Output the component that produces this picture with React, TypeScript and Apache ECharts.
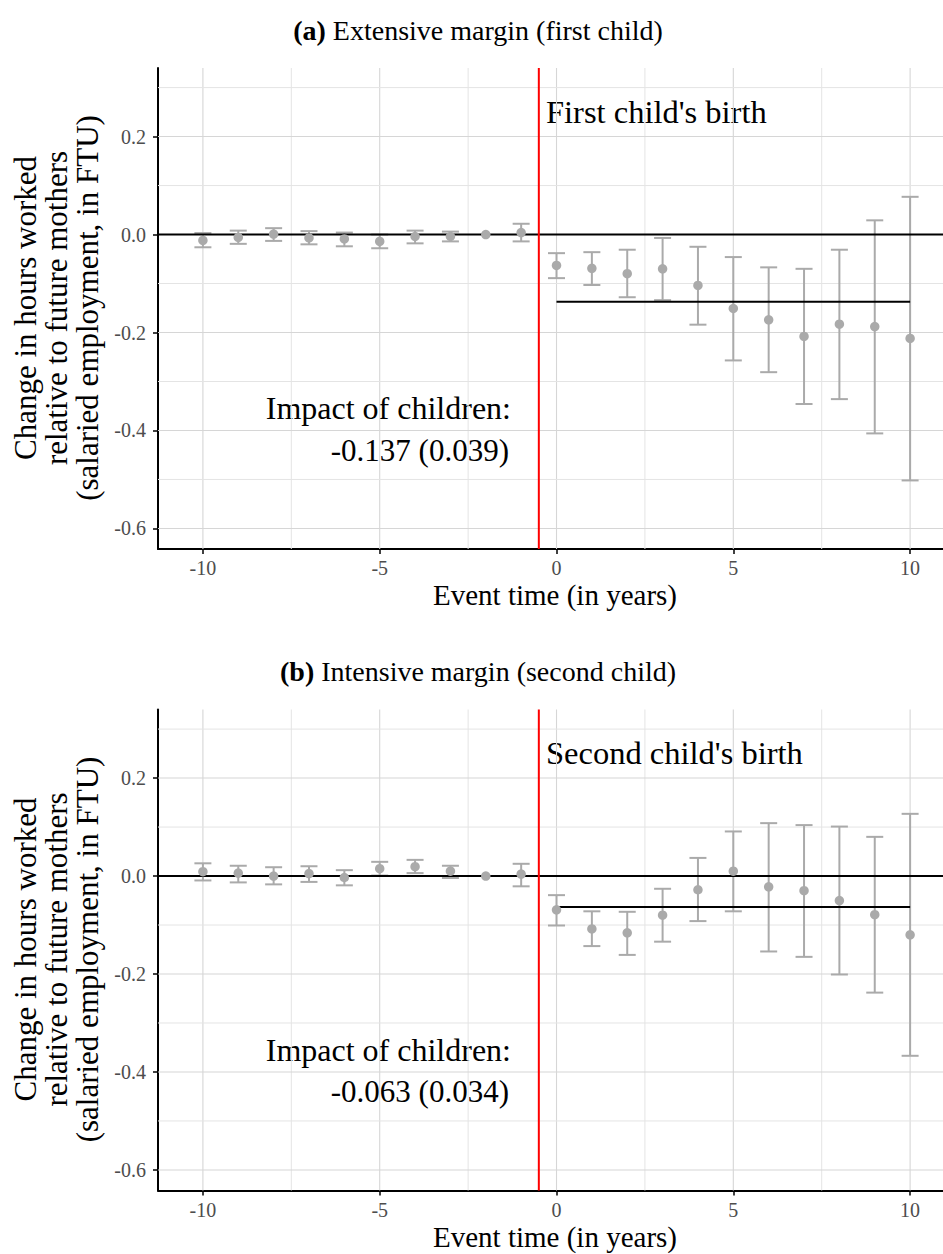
import React, { useEffect, useRef } from "react";
import * as echarts from "echarts";

// ---------- data ----------
const eventTime = [-10, -9, -8, -7, -6, -5, -4, -3, -2, -1, 0, 1, 2, 3, 4, 5, 6, 7, 8, 9, 10];

const estA = [-0.012, -0.006, 0.001, -0.007, -0.009, -0.014, -0.004, -0.004, 0.0, 0.004, -0.063, -0.069, -0.08, -0.07, -0.104, -0.151, -0.174, -0.208, -0.183, -0.188, -0.212];
const hiA = [0.003, 0.008, 0.013, 0.007, 0.004, 0.0, 0.008, 0.006, null, 0.022, -0.038, -0.036, -0.031, -0.007, -0.025, -0.046, -0.067, -0.07, -0.031, 0.029, 0.077];
const loA = [-0.026, -0.019, -0.013, -0.02, -0.024, -0.028, -0.018, -0.014, null, -0.014, -0.089, -0.103, -0.128, -0.134, -0.184, -0.257, -0.281, -0.346, -0.336, -0.406, -0.502];

const estB = [0.009, 0.006, 0.0, 0.005, -0.003, 0.015, 0.019, 0.01, 0.0, 0.004, -0.069, -0.108, -0.116, -0.08, -0.028, 0.01, -0.022, -0.03, -0.05, -0.079, -0.12];
const hiB = [0.026, 0.021, 0.018, 0.02, 0.012, 0.029, 0.033, 0.021, null, 0.025, -0.039, -0.072, -0.073, -0.026, 0.037, 0.091, 0.108, 0.104, 0.101, 0.08, 0.127];
const loB = [-0.009, -0.013, -0.017, -0.012, -0.019, 0.001, 0.006, -0.004, null, -0.021, -0.101, -0.143, -0.161, -0.134, -0.092, -0.072, -0.154, -0.165, -0.201, -0.238, -0.367];

const impactA = -0.137;
const impactB = -0.063;
const impactPeriod = [0, 10];
const eventLineX = -0.5;

const xTicks = [-10, -5, 0, 5, 10];
const xMinor = [-7.5, -2.5, 2.5, 7.5];
const yTicks = [-0.6, -0.4, -0.2, 0, 0.2];
const yMinor = [-0.5, -0.3, -0.1, 0.1, 0.3];

const titles = ["(a)|Extensive margin (first child)", "(b)|Intensive margin (second child)"];
const birthLabels = ["First child's birth", "Second child's birth"];
const impactLabels = ["-0.137 (0.039)", "-0.063 (0.034)"];
const impactHeading = "Impact of children:";
const xTitle = "Event time (in years)";
const yTitle = "Change in hours worked\nrelative to future mothers\n(salaried employment, in FTU)";

// ---------- layout / style ----------
const X_MIN = -11.27;
const X_MAX = 10.93;
const Y_MIN = -0.642;
const Y_MAX = 0.34;
const FONT = "Liberation Serif";
const GREY = "#AAAAAA";
const PANEL_OFFSET = 641.5;

export default function App() {
  const ref = useRef<HTMLDivElement>(null);

  useEffect(() => {
    document.body.style.margin = "0";
    if (!ref.current) return;
    const chart = echarts.init(ref.current, null, { renderer: "svg" });

    const panels = [
      { est: estA, lo: loA, hi: hiA, impact: impactA },
      { est: estB, lo: loB, hi: hiB, impact: impactB },
    ];

    const grids: any[] = [];
    const xAxes: any[] = [];
    const yAxes: any[] = [];
    const series: any[] = [];
    const graphics: any[] = [];

    panels.forEach((p, i) => {
      const off = i * PANEL_OFFSET;
      grids.push({ left: 158, top: 68 + off, width: 785, height: 481, containLabel: false });
      xAxes.push({
        type: "value",
        gridIndex: i,
        min: X_MIN,
        max: X_MAX,
        splitLine: { show: false },
        axisLine: { show: true, onZero: false, lineStyle: { color: "#000", width: 2 } },
        axisTick: { show: true, customValues: xTicks, length: 5, lineStyle: { color: "#000", width: 1.5 } },
        axisLabel: {
          show: true,
          customValues: xTicks,
          margin: 9,
          color: "#4D4D4D",
          fontFamily: FONT,
          fontSize: 20,
          formatter: (v: number) => String(v),
        },
      });
      yAxes.push({
        type: "value",
        gridIndex: i,
        min: Y_MIN,
        max: Y_MAX,
        splitLine: { show: false },
        axisLine: { show: true, onZero: false, lineStyle: { color: "#000", width: 2 } },
        axisTick: { show: true, customValues: yTicks, length: 5, lineStyle: { color: "#000", width: 1.5 } },
        axisLabel: {
          show: true,
          customValues: yTicks,
          margin: 12,
          color: "#4D4D4D",
          fontFamily: FONT,
          fontSize: 20,
          formatter: (v: number) => v.toFixed(1),
        },
      });

      const gridData: number[][] = [
        ...xTicks.map((v) => [0, v, 1]),
        ...xMinor.map((v) => [0, v, 0]),
        ...yTicks.map((v) => [1, v, 1]),
        ...yMinor.map((v) => [1, v, 0]),
      ];
      series.push({
        type: "custom",
        xAxisIndex: i,
        yAxisIndex: i,
        silent: true,
        z: 1,
        data: gridData,
        renderItem: (params: any, api: any) => {
          const orient = api.value(0);
          const v = api.value(1);
          const major = api.value(2) === 1;
          const cs = params.coordSys;
          const style = { stroke: major ? "#D6D6D6" : "#E4E4E4", lineWidth: major ? 1.1 : 1 };
          if (orient === 0) {
            const x = api.coord([v, 0])[0];
            return { type: "line", shape: { x1: x, y1: cs.y, x2: x, y2: cs.y + cs.height }, style };
          }
          const y = api.coord([0, v])[1];
          return { type: "line", shape: { x1: cs.x, y1: y, x2: cs.x + cs.width, y2: y }, style };
        },
      });

      const ebData = eventTime
        .map((t, k) => [t, p.lo[k], p.hi[k]])
        .filter((d) => d[1] !== null && d[2] !== null);
      series.push({
        type: "custom",
        xAxisIndex: i,
        yAxisIndex: i,
        silent: true,
        z: 3,
        data: ebData,
        encode: { x: 0, y: [1, 2] },
        renderItem: (params: any, api: any) => {
          const x = api.value(0);
          const top = api.coord([x, api.value(2)]);
          const bot = api.coord([x, api.value(1)]);
          const hw = 8.5;
          const style = { stroke: GREY, lineWidth: 2 };
          return {
            type: "group",
            children: [
              { type: "line", shape: { x1: top[0], y1: top[1], x2: bot[0], y2: bot[1] }, style },
              { type: "line", shape: { x1: top[0] - hw, y1: top[1], x2: top[0] + hw, y2: top[1] }, style },
              { type: "line", shape: { x1: bot[0] - hw, y1: bot[1], x2: bot[0] + hw, y2: bot[1] }, style },
            ],
          };
        },
      });

      series.push({
        type: "line",
        xAxisIndex: i,
        yAxisIndex: i,
        silent: true,
        z: 4,
        symbol: "none",
        data: [[X_MIN, 0], [X_MAX, 0]],
        lineStyle: { color: "#000", width: 2 },
      });
      series.push({
        type: "line",
        xAxisIndex: i,
        yAxisIndex: i,
        silent: true,
        z: 4,
        symbol: "none",
        data: [[eventLineX, Y_MIN], [eventLineX, Y_MAX]],
        lineStyle: { color: "#FF0000", width: 2 },
      });
      series.push({
        type: "line",
        xAxisIndex: i,
        yAxisIndex: i,
        silent: true,
        z: 4,
        symbol: "none",
        data: impactPeriod.map((t) => [t, p.impact]),
        lineStyle: { color: "#000", width: 2 },
      });
      series.push({
        type: "scatter",
        xAxisIndex: i,
        yAxisIndex: i,
        silent: true,
        z: 5,
        symbol: "circle",
        symbolSize: 9.5,
        itemStyle: { color: GREY, opacity: 1 },
        data: eventTime.map((t, k) => [t, p.est[k]]),
      });

      const [tag, rest] = titles[i].split("|");
      graphics.push({
        type: "text",
        x: 478,
        y: 30 + off,
        style: {
          text: `{b|${tag}} ${rest}`,
          fontFamily: FONT,
          fontSize: 28,
          fill: "#000",
          align: "center",
          verticalAlign: "middle",
          rich: { b: { fontFamily: FONT, fontSize: 28, fontWeight: "bold", fill: "#000" } },
        },
      });
      graphics.push({
        type: "text",
        x: 546,
        y: 111.5 + off,
        style: { text: birthLabels[i], fontFamily: FONT, fontSize: 32.5, fill: "#000", align: "left", verticalAlign: "middle" },
      });
      graphics.push({
        type: "text",
        x: 511,
        y: 408 + off,
        style: { text: impactHeading, fontFamily: FONT, fontSize: 32, fill: "#000", align: "right", verticalAlign: "middle" },
      });
      graphics.push({
        type: "text",
        x: 509,
        y: 450 + off,
        style: { text: impactLabels[i], fontFamily: FONT, fontSize: 31, fill: "#000", align: "right", verticalAlign: "middle" },
      });
      graphics.push({
        type: "text",
        x: 555,
        y: 595 + off,
        style: { text: xTitle, fontFamily: FONT, fontSize: 29, fill: "#000", align: "center", verticalAlign: "middle" },
      });
      graphics.push({
        type: "text",
        x: 56,
        y: 308 + off,
        rotation: Math.PI / 2,
        style: {
          text: yTitle,
          fontFamily: FONT,
          fontSize: 31,
          lineHeight: 31,
          fill: "#000",
          align: "center",
          verticalAlign: "middle",
        },
      });
    });

    chart.setOption({
      animation: false,
      backgroundColor: "#FFFFFF",
      grid: grids,
      xAxis: xAxes,
      yAxis: yAxes,
      series,
      graphic: graphics,
    });

    return () => chart.dispose();
  }, []);

  return <div ref={ref} style={{ width: 943, height: 1254 }} />;
}
